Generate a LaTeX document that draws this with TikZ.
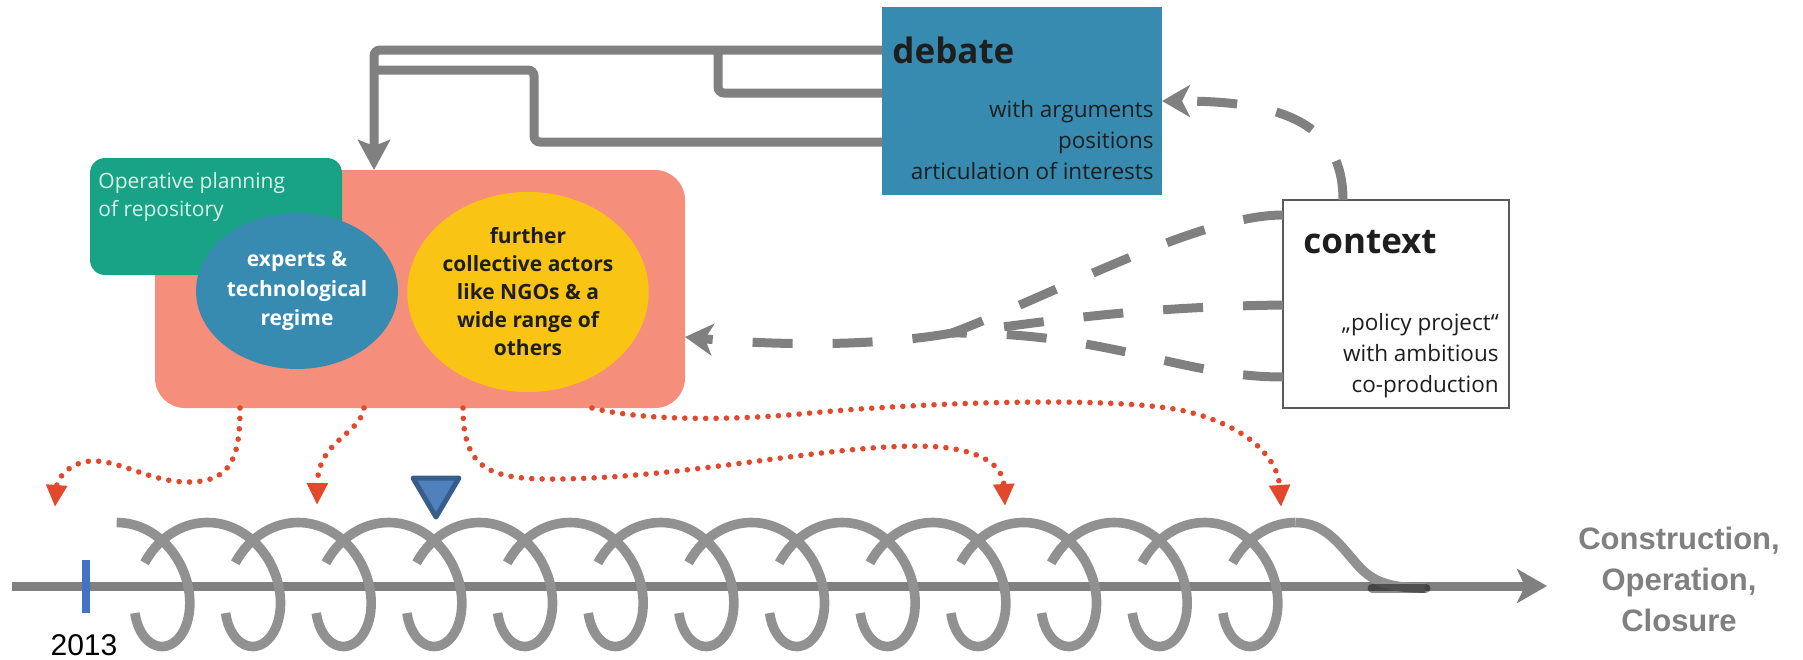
\documentclass[tikz,border=0pt]{standalone}
\usepackage{fontspec}
\setmainfont{Open Sans}
\newfontfamily\arialf{Liberation Sans}
\usetikzlibrary{arrows.meta,shapes.geometric,calc}
\definecolor{dblue}{RGB}{56,139,176}
\definecolor{salmonc}{RGB}{245,142,123}
\definecolor{opgreen}{RGB}{24,163,134}
\definecolor{ayellow}{RGB}{249,196,20}
\definecolor{cgray}{RGB}{128,128,128}
\definecolor{coilgray}{RGB}{145,145,145}
\definecolor{rdot}{RGB}{226,72,44}
\definecolor{trifill}{RGB}{79,129,189}
\definecolor{triedge}{RGB}{56,93,138}
\definecolor{tickblue}{RGB}{68,114,196}
\definecolor{txtdark}{RGB}{30,30,30}
\definecolor{gtext}{RGB}{218,240,232}
\definecolor{ctxborder}{RGB}{90,90,90}
\begin{document}
\begin{tikzpicture}[x=0.5pt,y=-0.5pt,
  box/.style={draw=none, inner sep=0pt, outer sep=0pt, anchor=north west},
  grayconn/.style={draw=cgray, line width=4.5pt, rounded corners=3pt},
  dashline/.style={draw=cgray, line width=4.5pt, dash pattern=on 20pt off 20pt},
  dashconn/.style={dashline, -{Stealth[length=14pt,width=16pt,inset=4pt]}},
  reddot/.style={draw=rdot, line width=2.8pt, line cap=round, dash pattern=on 0pt off 5.2pt, -{Triangle[length=11pt,width=10pt]}},
  coil/.style={draw=coilgray, line width=4.8pt},
  smalltxt/.style={inner sep=0pt, font=\fontsize{11.25}{15.5}\selectfont, text=txtdark},
  bigtitle/.style={inner sep=0pt, font=\bfseries\fontsize{17.5}{20}\selectfont, text=txtdark},
  ell/.style={ellipse, inner sep=0pt, align=center}
]
\useasboundingbox (0,0) rectangle (1803,659);

% main actor area
\node[box, fill=salmonc, rounded corners=15pt, minimum width=265pt, minimum height=119pt] (salmon) at (155,170) {};
\node[box, fill=opgreen, rounded corners=7.5pt, minimum width=126pt, minimum height=58.5pt] (green) at (90,158) {};
\node[anchor=north west, inner sep=0pt, text=gtext, align=left, font=\fontsize{10.5}{14}\selectfont] (optext) at (98,172) {Operative planning\\of repository};
\node[ell, fill=dblue, text=white, minimum width=101pt, minimum height=78pt, font=\bfseries\fontsize{10.5}{14.8}\selectfont] (experts) at (297,291) {experts \&\\technological\\regime};
\node[ell, fill=ayellow, text=txtdark, minimum width=118pt, minimum height=100pt, font=\bfseries\fontsize{10.5}{14}\selectfont] (actors) at (528,292) {further\\collective actors\\like NGOs \& a\\wide range of\\others};

% debate
\node[box, fill=dblue, minimum width=140pt, minimum height=94pt] (debate) at (882,7) {};
\node[bigtitle, anchor=base west] (debtitle) at (892,63) {debate};
\node[smalltxt, anchor=north east, align=right] (debtext) at (1154,100) {with arguments\\positions\\articulation of interests};

% context
\node[box, draw=ctxborder, line width=0.7pt, fill=white, minimum width=113pt, minimum height=104pt] (ctx) at (1283,200) {};
\node[bigtitle, anchor=base west] (ctxtitle) at (1303,253) {context};
\node[smalltxt, anchor=north east, align=right] (ctxtext) at (1499,313) {„policy project“\\with ambitious\\co-production};

% solid gray connectors from debate
\draw[grayconn, -{Stealth[length=15pt,width=16pt,inset=3pt]}] (debate.west |- 0,50) -- (374,50) -- (374,0 |- salmon.north);
\draw[grayconn] (debate.west |- 0,93) -- (718,93) -- (718,50);
\draw[grayconn] (debate.west |- 0,142) -- (534,142) -- (534,70) -- (374,70);

% dashed connectors from context
\draw[dashconn] (1343,0 |- ctx.north) .. controls (1343,125) and (1285,101) .. (debate.east |- 0,101);
\coordinate (dmerge) at (952,333);
\draw[dashline] (ctx.west |- 0,215) .. controls (1200,215) and (1060,292) .. (dmerge);
\draw[dashline] (ctx.west |- 0,305) .. controls (1120,307) and (1030,325) .. (dmerge);
\draw[dashline] (ctx.west |- 0,377) .. controls (1180,377) and (1110,332) .. (dmerge);
\draw[dashconn] (dmerge) .. controls (880,346) and (780,346) .. (salmon.east |- 0,337);

% timeline
\coordinate (tlstart) at (12,586);
\coordinate (tlend) at (1547,586);
\draw[cgray, line width=4.5pt, -{Stealth[length=15pt,width=17pt,inset=4pt]}] (tlstart) -- (tlend);

% coil
\draw[coil] plot[domain=0:4.234, samples=60, smooth, variable=\t] ({116.7+14.43*\t+48.3*sin(\t r)},{584.5-62*cos(\t r)});
\foreach \n in {1,...,12}{
  \pgfmathsetmacro\ta{2*pi*(\n-1)+5.07}
  \pgfmathsetmacro\tb{2*pi*\n+4.234}
  \draw[coil] plot[domain=\ta:\tb, samples=60, smooth, variable=\t] ({116.7+14.43*\t+48.3*sin(\t r)},{584.5-62*cos(\t r)});
}
\draw[coil] plot[domain=80.468:81.681, samples=20, smooth, variable=\t] ({116.7+14.43*\t+48.3*sin(\t r)},{584.5-62*cos(\t r)});
\draw[coil] (1295.4,522.5) .. controls (1325,522.5) and (1340,545) .. (1355,562) .. controls (1370,580) and (1385,588) .. (1425,588);
\draw[line width=4.5pt, line cap=round, draw=black, opacity=0.45] (1372,588) -- (1426,588);

% tick and year
\draw[tickblue, line width=4pt] (86,560) -- (86,613);
\node[anchor=base, inner sep=0pt, font=\arialf\fontsize{15}{18}\selectfont] (year) at (84,655) {2013};

% phase label
\node[anchor=north, inner sep=0pt, align=center, text=cgray, font=\arialf\bfseries\fontsize{15.5}{20.5}\selectfont] (phase) at (1679,527) {Construction,\\Operation,\\Closure};

% blue marker
\draw[fill=trifill, draw=triedge, line width=2.5pt, line join=round] (413,478) -- (459,478) -- (436,517) -- cycle;

% red dotted influence arrows
\coordinate (r1) at (55,507);
\coordinate (r2) at (317,505);
\coordinate (r3) at (1005,506);
\coordinate (r4) at (1281,507);
\draw[reddot] (salmon.south -| 240,0) .. controls (240,460) and (230,482) .. (188,482) .. controls (150,482) and (120,460) .. (92,461) .. controls (68,462) and (57,480) .. (r1);
\draw[reddot] (salmon.south -| 364,0) .. controls (360,435) and (318,440) .. (r2);
\draw[reddot] (salmon.south -| 463,0) .. controls (463,470) and (490,480) .. (560,479) .. controls (700,477) and (850,440) .. (940,447) .. controls (990,452) and (1003,470) .. (r3);
\draw[reddot] (salmon.south -| 592,0) .. controls (640,420) and (720,421) .. (800,414) .. controls (900,404) and (1100,395) .. (1180,410) .. controls (1250,425) and (1278,460) .. (r4);
\end{tikzpicture}
\end{document}
